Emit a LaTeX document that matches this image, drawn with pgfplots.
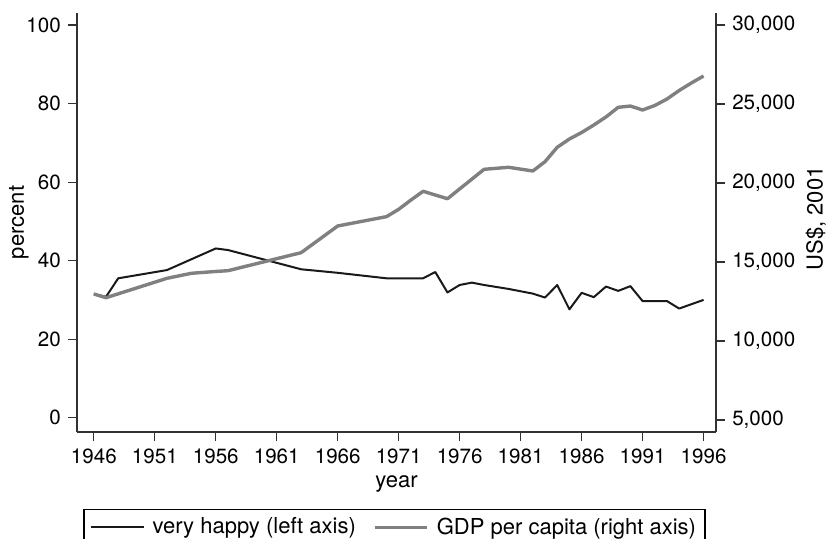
\documentclass[border=0pt]{standalone}
\usepackage{pgfplots}
\pgfplotsset{compat=1.18}
\usepackage{fontspec}
\setmainfont{TeX Gyre Heros}
\definecolor{gdpgray}{RGB}{128,128,128}
\definecolor{axgray}{RGB}{50,50,50}
\begin{document}
\fontsize{10.3}{12.4}\selectfont
\begin{tikzpicture}
\pgfplotsset{
  common/.style={
    scale only axis, width=319.5pt, height=209.5pt,
    at={(0,0)}, anchor=south west,
    xmin=1944.62, xmax=1997.02,
    enlargelimits=false,
    tick align=outside, major tick length=4.5pt,
    every tick/.style={axgray, line width=0.6pt},
    axis line style={axgray, line width=0.75pt, -},
    /pgf/number format/assume math mode=true,
    tick label style={font=\fontsize{10.3}{12.4}\selectfont},
    label style={font=\fontsize{11}{13.2}\selectfont},
    clip=false,
  }
}
\begin{axis}[common,
  axis x line*=bottom, axis y line*=left,
  ymin=-3.64, ymax=103.06,
  ytick={0,20,...,100},
  xtick={1946,1951,...,1996},
  /pgf/number format/1000 sep={},
  xticklabel style={yshift=-0.5pt},
  xlabel={year},
  xlabel style={at={(axis description cs:0.5,-0.1229)}, anchor=center},
  ylabel={percent},
  ylabel style={at={(axis description cs:-0.0908,0.5)}, anchor=center},
]
\addplot[color=black!90, line width=1pt, line join=round] coordinates {
(1946,31.5) (1947,30.8) (1948,35.5) (1952,37.6) (1956,43.1) (1957,42.7)
(1963,37.8) (1966,36.9) (1970,35.5) (1973,35.5) (1974,37.1) (1975,31.9)
(1976,33.8) (1977,34.4) (1978,33.8) (1980,32.8) (1982,31.6) (1983,30.6)
(1984,33.8) (1985,27.6) (1986,31.8) (1987,30.7) (1988,33.4) (1989,32.3)
(1990,33.5) (1991,29.7) (1993,29.7) (1994,27.8) (1996,30.0)
};
\end{axis}
\begin{axis}[common,
  axis x line=none, axis y line*=right,
  ymin=4240, ymax=30759,
  ytick={5000,10000,...,30000},
  scaled y ticks=false,
  /pgf/number format/1000 sep={,},
  ylabel={US\$, 2001},
  ylabel style={at={(axis description cs:1.156,0.51)}, anchor=center},
  legend columns=2,
  legend style={at={(axis description cs:0.010,-0.1838)}, anchor=north west,
    draw=black, line width=0.6pt, inner xsep=3pt, inner ysep=2.5pt,
    font=\fontsize{11}{13.2}\selectfont,
    /tikz/every odd column/.append style={column sep=2.5pt},
    /tikz/every even column/.append style={column sep=7pt},
    nodes={inner sep=1.5pt}},
  legend image code/.code={\draw[#1] (0pt,0pt) -- (26.3pt,0pt);},
]
\addlegendimage{color=black!90, line width=1pt}
\addlegendentry{very happy (left axis)}
\addplot[color=gdpgray, line width=1.7pt, line join=round] coordinates {
(1946,12975) (1947,12740) (1952,13968) (1954,14285) (1956,14400) (1957,14450)
(1963,15590) (1966,17280) (1970,17870) (1971,18335) (1972,18920) (1973,19475)
(1975,19005) (1978,20865) (1980,20995) (1982,20760) (1983,21350) (1984,22260)
(1985,22785) (1986,23195) (1987,23670) (1988,24180) (1989,24790) (1990,24870)
(1991,24620) (1992,24905) (1993,25315) (1994,25855) (1995,26330) (1996,26770)
};
\addlegendentry{GDP per capita (right axis)}
\end{axis}
\pgfresetboundingbox
\path[use as bounding box] (-38.5pt,-53pt) rectangle (375pt,216pt);
\end{tikzpicture}
\end{document}
